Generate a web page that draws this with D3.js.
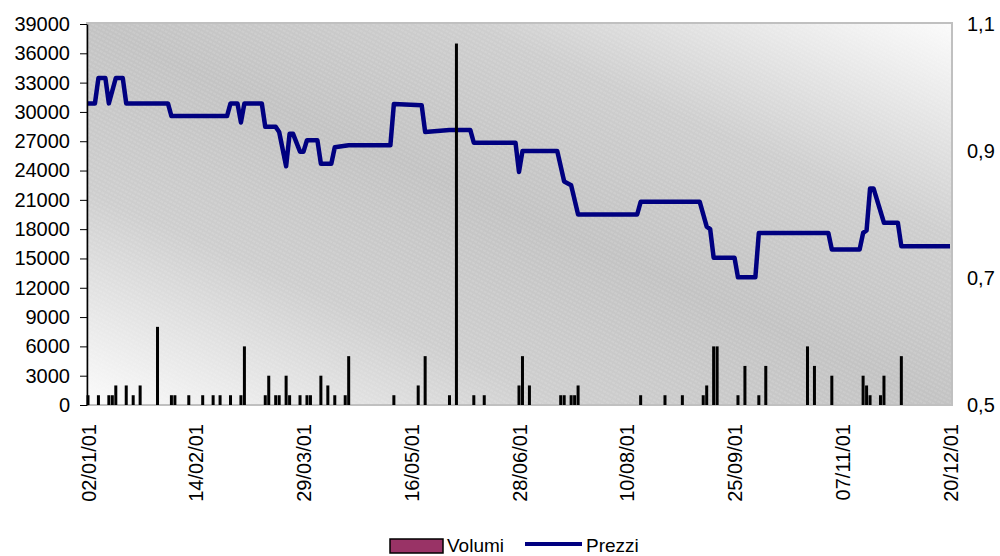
<!DOCTYPE html>
<html>
<head>
<meta charset="utf-8">
<title>Volumi e Prezzi 2001</title>
<script src="https://cdn.jsdelivr.net/npm/d3@7"></script>
<style>
  html, body { margin: 0; padding: 0; background: #fff; }
  #chart { width: 1000px; height: 556px; }
  text { font-family: "Liberation Sans", Arial, sans-serif; fill: #000; }
</style>
</head>
<body>
<div id="chart"></div>
<script>
// Trading days of 2001, one category per session (0 = 02/01/01)
const dayCount = 249;
const tickEvery = 31;
const tickLabels = ['02/01/01', '14/02/01', '29/03/01', '16/05/01', '28/06/01',
  '10/08/01', '25/09/01', '07/11/01', '20/12/01'];

// Prezzi: session index where the price changes, and the price there
const priceDays = [0, 2, 3, 5, 6, 8, 10, 11, 23, 24, 40, 41, 43, 44, 45, 50, 51, 54, 55, 57,
  58, 59, 61, 62, 63, 66, 67, 70, 71, 75, 87, 88, 96, 97, 104, 110, 111, 123, 124, 125,
  135, 137, 139, 141, 158, 159, 176, 178, 179, 180, 186, 187, 192, 193, 213, 214, 222, 223, 224, 225,
  226, 229, 233, 234, 248];
const prices = [0.975, 0.975, 1.015, 1.015, 0.975, 1.015, 1.015, 0.975, 0.975, 0.955, 0.955, 0.975, 0.975, 0.945, 0.975, 0.975, 0.938, 0.938, 0.930, 0.876,
  0.927, 0.927, 0.899, 0.899, 0.917, 0.917, 0.880, 0.880, 0.906, 0.909, 0.909, 0.974, 0.972, 0.930, 0.933, 0.933, 0.913, 0.913, 0.867, 0.900,
  0.900, 0.852, 0.846, 0.800, 0.800, 0.820, 0.820, 0.781, 0.777, 0.732, 0.732, 0.701, 0.701, 0.771, 0.771, 0.745, 0.745, 0.771, 0.775, 0.841,
  0.841, 0.787, 0.787, 0.750, 0.750];

// Volumi: sessions with trades and the traded volume
const volumeDays = [0, 3, 6, 7, 8, 11, 13, 15, 20, 24, 25, 29, 33, 36, 38, 41, 44, 45, 51, 52,
  54, 55, 57, 58, 61, 63, 64, 67, 69, 71, 74, 75, 88, 95, 97, 104, 106, 111, 114, 124,
  125, 127, 136, 137, 139, 140, 141, 159, 166, 171, 177, 178, 180, 181, 187, 189, 193, 195, 207, 209,
  214, 223, 224, 225, 228, 229, 234];
const volumes = [1000, 1000, 1000, 1000, 2000, 2000, 1000, 2000, 8000, 1000, 1000, 1000, 1000, 1000, 1000, 1000, 1000, 6000, 1000, 3000,
  1000, 1000, 3000, 1000, 1000, 1000, 1000, 3000, 2000, 1000, 1000, 5000, 1000, 2000, 5000, 1000, 37000, 1000, 1000, 2000,
  5000, 2000, 1000, 1000, 1000, 1000, 2000, 1000, 1000, 1000, 1000, 2000, 6000, 6000, 1000, 4000, 1000, 4000, 6000, 4000,
  3000, 3000, 2000, 1000, 1000, 3000, 5000];

const volumeTicks = d3.range(0, 39001, 3000);
const priceTicks = [0.5, 0.7, 0.9, 1.1];

const PriceChart = {
  svg: null,
  x: null,
  yVol: null,
  yPrice: null,
  plot: { left: 87, right: 952, top: 23, bottom: 405 },

  /**
   * Build svg, scales and draw everything
   */
  init() {
    const width = 1000, height = 556;
    const p = this.plot;

    this.svg = d3.select('#chart')
      .append('svg')
      .attr('width', width)
      .attr('height', height);

    this.x = d3.scaleLinear().domain([0, dayCount - 1]).range([p.left + 1, p.right - 2]);
    this.yVol = d3.scaleLinear().domain([0, 39000]).range([p.bottom, 24]);
    this.yPrice = d3.scaleLinear().domain([0.5, 1.1]).range([p.bottom, 24]);

    this.drawBackground();
    this.drawLine();
    this.drawBars();
    this.drawAxes();
    this.drawLegend();
  },

  /**
   * Grey diagonal gradient with faint white hatching, like the Excel plot area
   */
  drawBackground() {
    const p = this.plot;
    const defs = this.svg.append('defs');

    const grad = defs.append('linearGradient')
      .attr('id', 'plot-bg')
      .attr('x1', 0).attr('y1', 1)
      .attr('x2', 1).attr('y2', 0);
    [[0, '#fbfbfb'], [0.28, '#cecece'], [0.5, '#c3c3c3'], [0.72, '#cecece'], [1, '#fbfbfb']]
      .forEach(([o, c]) => grad.append('stop').attr('offset', o).attr('stop-color', c));

    const hatch = defs.append('pattern')
      .attr('id', 'plot-hatch')
      .attr('patternUnits', 'userSpaceOnUse')
      .attr('width', 8).attr('height', 4)
      .attr('patternTransform', 'rotate(28)');
    hatch.append('line')
      .attr('x1', 0).attr('y1', 2).attr('x2', 8).attr('y2', 2)
      .attr('stroke', '#fff')
      .attr('stroke-opacity', 0.3)
      .attr('stroke-width', 0.8)
      .attr('stroke-dasharray', '3,1');

    this.svg.append('rect')
      .attr('x', p.left).attr('y', p.top)
      .attr('width', p.right - p.left).attr('height', p.bottom - p.top)
      .attr('fill', 'url(#plot-bg)');
    this.svg.append('rect')
      .attr('x', p.left).attr('y', p.top)
      .attr('width', p.right - p.left).attr('height', p.bottom - p.top)
      .attr('fill', 'url(#plot-hatch)')
      .attr('stroke', '#c0c0c0')
      .attr('stroke-width', 2);
  },

  /**
   * Prezzi line on the right axis
   */
  drawLine() {
    const data = priceDays.map((d, i) => [d, prices[i]]);
    const line = d3.line()
      .x(d => this.x(d[0]))
      .y(d => this.yPrice(d[1]));

    this.svg.append('path')
      .datum(data)
      .attr('d', line)
      .attr('fill', 'none')
      .attr('stroke', '#000080')
      .attr('stroke-width', 4.5)
      .attr('stroke-linejoin', 'round');
  },

  /**
   * Volumi columns on the left axis
   */
  drawBars() {
    const data = volumeDays.map((d, i) => ({ day: d, v: volumes[i] }));
    const barW = 3;

    this.svg.append('g').attr('class', 'bars')
      .selectAll('rect')
      .data(data)
      .enter()
      .append('rect')
      .attr('x', d => this.x(d.day) - barW / 2)
      .attr('y', d => this.yVol(d.v))
      .attr('width', barW)
      .attr('height', d => this.plot.bottom - this.yVol(d.v))
      .attr('fill', '#000');
  },

  /**
   * Left, right and bottom axes
   */
  drawAxes() {
    const p = this.plot;

    const left = this.svg.append('g')
      .attr('transform', `translate(${p.left},0)`)
      .call(d3.axisLeft(this.yVol)
        .tickValues(volumeTicks)
        .tickFormat(d3.format('d'))
        .tickSize(7)
        .tickPadding(10)
        .tickSizeOuter(0));
    left.select('.domain').attr('stroke', '#000').attr('stroke-width', 1.5);
    left.selectAll('.tick line').attr('stroke', '#000');
    left.selectAll('text').style('font-size', '20px').attr('font-family', null);

    const right = this.svg.append('g')
      .attr('transform', `translate(${p.right},0)`)
      .call(d3.axisRight(this.yPrice)
        .tickValues(priceTicks)
        .tickFormat(d => d3.format('.1f')(d).replace('.', ','))
        .tickSize(0)
        .tickPadding(15));
    right.select('.domain').remove();
    right.selectAll('text').style('font-size', '20px').attr('font-family', null);

    const bottom = this.svg.append('g')
      .attr('transform', `translate(0,${p.bottom})`)
      .call(d3.axisBottom(this.x)
        .tickValues(tickLabels.map((_, i) => i * tickEvery))
        .tickFormat((d, i) => tickLabels[i])
        .tickSize(0));
    bottom.select('.domain').remove();
    bottom.selectAll('text')
      .style('font-size', '20px')
      .attr('font-family', null)
      .attr('transform', 'rotate(-90)')
      .attr('text-anchor', 'end')
      .attr('x', -19)
      .attr('y', 0)
      .attr('dy', '0.36em');
  },

  /**
   * Legend under the chart
   */
  drawLegend() {
    const g = this.svg.append('g').attr('class', 'legend');

    g.append('rect')
      .attr('x', 390).attr('y', 539)
      .attr('width', 53).attr('height', 14)
      .attr('fill', '#993366')
      .attr('stroke', '#000')
      .attr('stroke-width', 1.5);
    g.append('text')
      .attr('x', 447).attr('y', 552)
      .style('font-size', '19px')
      .text('Volumi');

    g.append('line')
      .attr('x1', 525).attr('x2', 582)
      .attr('y1', 544).attr('y2', 544)
      .attr('stroke', '#000080')
      .attr('stroke-width', 4);
    g.append('text')
      .attr('x', 586).attr('y', 552)
      .style('font-size', '19px')
      .text('Prezzi');
  }
};

PriceChart.init();
</script>
</body>
</html>
